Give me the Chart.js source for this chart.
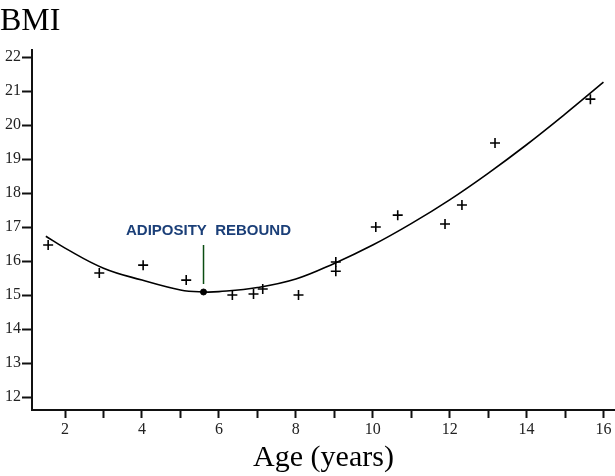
<!DOCTYPE html>
<html>
<head>
<meta charset="utf-8">
<script src="https://cdn.jsdelivr.net/npm/chart.js@4.4.0/dist/chart.umd.min.js"></script>
<style>
  html, body { margin: 0; padding: 0; background: #fff; overflow: hidden; }
  canvas { display: block; }
</style>
</head>
<body>
<canvas id="bmiChart" width="615" height="476"></canvas>
<script>
// measured BMI (crosses)
var ages = [1.56, 2.89, 4.03, 5.15, 6.35, 6.9, 7.14, 8.07, 9.04, 9.04, 10.08, 10.65, 11.88, 12.32, 13.18, 15.66];
var bmi  = [16.47, 15.65, 15.88, 15.44, 15.0, 15.03, 15.18, 15.0, 15.97, 15.7, 17.0, 17.35, 17.09, 17.65, 19.47, 20.76];

// fitted curve
var curveAges = [1.5, 2, 3, 4, 5, 5.6, 6, 7, 8, 9, 10, 11, 12, 13, 14, 15, 16];
var curveBmi  = [16.73, 16.38, 15.79, 15.44, 15.15, 15.09, 15.1, 15.22, 15.47, 15.93, 16.47, 17.1, 17.8, 18.58, 19.42, 20.32, 21.26];

// adiposity rebound point
var reboundAge = 5.6;
var reboundBmi = 15.09;

var xTicks = [2, 3, 4, 5, 6, 7, 8, 9, 10, 11, 12, 13, 14, 15, 16];
var yTicks = [12, 13, 14, 15, 16, 17, 18, 19, 20, 21, 22];

function toPoints(xs, ys) {
    var out = [];
    for (var i = 0; i < xs.length; i++) {
        out.push({ x: xs[i], y: ys[i] });
    }
    return out;
}

// label + green marker line above the rebound point
var reboundLabel = {
    id: 'reboundLabel',
    afterDatasetsDraw: function (chart) {
        var ctx = chart.ctx;
        var px = chart.scales.x.getPixelForValue(reboundAge);
        var py = chart.scales.y.getPixelForValue(reboundBmi);
        ctx.save();
        ctx.strokeStyle = '#0b4d12';
        ctx.lineWidth = 1.5;
        ctx.beginPath();
        ctx.moveTo(px, py - 8);
        ctx.lineTo(px, py - 47);
        ctx.stroke();
        ctx.fillStyle = '#1b3f78';
        ctx.font = 'bold 15px "Liberation Sans", Arial, sans-serif';
        ctx.textAlign = 'center';
        ctx.textBaseline = 'middle';
        ctx.fillText('ADIPOSITY  REBOUND', px + 5, py - 61);
        ctx.restore();
    }
};

var serif = '"Liberation Serif", "Times New Roman", serif';

new Chart(document.getElementById('bmiChart'), {
    type: 'scatter',
    data: {
        datasets: [
            {
                label: 'fit',
                type: 'line',
                data: toPoints(curveAges, curveBmi),
                borderColor: '#000',
                borderWidth: 1.6,
                pointRadius: 0,
                tension: 0.4,
                fill: false
            },
            {
                label: 'BMI',
                data: toPoints(ages, bmi),
                pointStyle: 'cross',
                pointRadius: 5,
                borderColor: '#000',
                borderWidth: 1.6,
                backgroundColor: '#000'
            },
            {
                label: 'rebound',
                data: [{ x: reboundAge, y: reboundBmi }],
                pointStyle: 'circle',
                pointRadius: 3,
                borderColor: '#000',
                backgroundColor: '#000'
            }
        ]
    },
    options: {
        responsive: false,
        devicePixelRatio: 1,
        animation: false,
        layout: { padding: 0, autoPadding: false },
        plugins: {
            legend: { display: false },
            tooltip: { enabled: false },
            title: {
                display: true,
                text: 'BMI',
                align: 'start',
                color: '#000',
                font: { family: serif, size: 32, weight: 'normal', lineHeight: 1.1 },
                padding: { top: 4, bottom: 11 }
            }
        },
        scales: {
            x: {
                type: 'linear',
                min: 1.14,
                max: 16.3,
                afterBuildTicks: function (axis) {
                    axis.ticks = xTicks.map(function (v) { return { value: v }; });
                },
                afterFit: function (axis) {
                    axis.height = 66;
                    axis.paddingLeft = 0;
                    axis.paddingRight = 0;
                },
                ticks: {
                    color: '#222',
                    font: { family: serif, size: 16 },
                    padding: 2,
                    maxRotation: 0,
                    autoSkip: false,
                    callback: function (v) { return v % 2 === 0 ? String(v) : ''; }
                },
                grid: {
                    drawOnChartArea: false,
                    drawTicks: true,
                    tickLength: 8,
                    tickWidth: 2,
                    tickColor: '#111'
                },
                border: { display: true, color: '#111', width: 2 },
                title: {
                    display: true,
                    text: 'Age (years)',
                    color: '#000',
                    font: { family: serif, size: 30, lineHeight: 1.2 },
                    padding: { top: 0, bottom: 0 }
                }
            },
            y: {
                type: 'linear',
                min: 11.62,
                max: 22.2,
                afterBuildTicks: function (axis) {
                    axis.ticks = yTicks.map(function (v) { return { value: v }; });
                },
                afterFit: function (axis) { axis.width = 32; },
                ticks: {
                    color: '#222',
                    font: { family: serif, size: 16 },
                    padding: 1,
                    autoSkip: false
                },
                grid: {
                    drawOnChartArea: false,
                    drawTicks: true,
                    tickLength: 10,
                    tickWidth: 2,
                    tickColor: '#111'
                },
                border: { display: true, color: '#111', width: 2 }
            }
        }
    },
    plugins: [reboundLabel]
});
</script>
</body>
</html>
